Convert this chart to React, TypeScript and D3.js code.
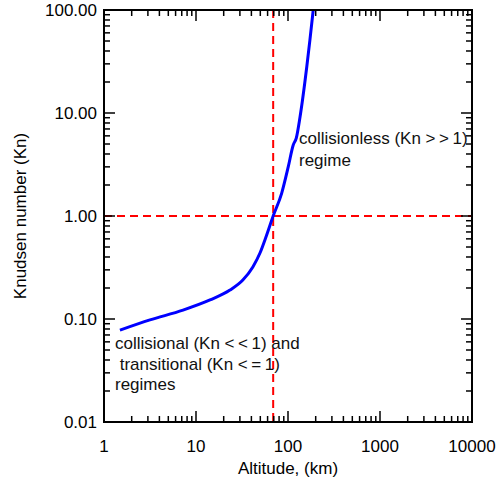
import React from "react";
import * as d3 from "d3";

const altitudeKm = [1.49, 3.16, 7.23, 14.2, 23.4, 32.3, 41.5, 49.6, 57.6, 69, 85.3, 100.7, 114, 123, 135, 160, 173, 188];
const knudsen = [0.078, 0.098, 0.122, 0.153, 0.191, 0.239, 0.32, 0.437, 0.625, 1.0, 1.66, 3.01, 4.89, 5.7, 9.1, 28.1, 51, 100];
const xTickValues = [1, 10, 100, 1000, 10000];
const xTickLabels = ["1", "10", "100", "1000", "10000"];
const yTickValues = [0.01, 0.1, 1, 10, 100];
const yTickLabels = ["0.01", "0.10", "1.00", "10.00", "100.00"];
const refAltitude = 69;
const refKn = 1;
// each label line split into [before, operator, after]
const upperLabel = [["collisionless (Kn ", ">>", "1)"], ["regime", "", ""]];
const lowerLabel = [["collisional (Kn ", "<<", "1) and"], [" transitional (Kn ", "<=", "1)"], ["regimes", "", ""]];

const W = 501, H = 481;
const L = 104, R = 472, T = 10, B = 422;
const FONT = "'Liberation Sans', Arial, Helvetica, sans-serif";

function minorTicks(domain: [number, number]) {
  const out: number[] = [];
  for (let e = Math.round(Math.log10(domain[0])); e < Math.round(Math.log10(domain[1])); e++) {
    for (let m = 2; m <= 9; m++) out.push(m * Math.pow(10, e));
  }
  return out;
}

function Label({ x, y, parts }: { x: number; y: number; parts: string[] }) {
  return (
    <text x={x} y={y} style={{ whiteSpace: "pre" }}>
      <tspan>{parts[0]}</tspan>
      {parts[1] ? <tspan letterSpacing={3.5}>{parts[1]}</tspan> : null}
      {parts[2] ? <tspan>{parts[2]}</tspan> : null}
    </text>
  );
}

export default function App() {
  const x = d3.scaleLog().domain([1, 10000]).range([L, R]);
  const y = d3.scaleLog().domain([0.01, 100]).range([B, T]);
  const pts = altitudeKm.map((a, i) => [a, knudsen[i]] as [number, number]);
  const line = d3.line<[number, number]>().x(d => x(d[0])).y(d => y(d[1])).curve(d3.curveMonotoneX);
  const xMinor = minorTicks([1, 10000]);
  const yMinor = minorTicks([0.01, 100]);
  const MAJ = 11, MIN = 6;
  return (
    <svg width={W} height={H} style={{ position: "absolute", left: 0, top: 0, background: "#fff" }} fontFamily={FONT}>
      <defs>
        <clipPath id="plot"><rect x={L} y={T} width={R - L} height={B - T} /></clipPath>
      </defs>
      <rect x={0} y={0} width={W} height={H} fill="#fff" />
      <g clipPath="url(#plot)">
        <line x1={x(refAltitude)} x2={x(refAltitude)} y1={T} y2={B} stroke="#ff0000" strokeWidth={2} strokeDasharray="8,5" />
        <line x1={L} x2={R} y1={y(refKn)} y2={y(refKn)} stroke="#ff0000" strokeWidth={2} strokeDasharray="8,5" />
        <path d={line(pts) || ""} fill="none" stroke="#0000ff" strokeWidth={3} />
      </g>
      <g stroke="#000" strokeWidth={1.5}>
        {xTickValues.map(v => (
          <g key={"xm" + v}>
            <line x1={x(v)} x2={x(v)} y1={B} y2={B - MAJ} />
            <line x1={x(v)} x2={x(v)} y1={T} y2={T + MAJ} />
          </g>
        ))}
        {xMinor.map(v => (
          <g key={"xn" + v}>
            <line x1={x(v)} x2={x(v)} y1={B} y2={B - MIN} />
            <line x1={x(v)} x2={x(v)} y1={T} y2={T + MIN} />
          </g>
        ))}
        {yTickValues.map(v => (
          <g key={"ym" + v}>
            <line x1={L} x2={L + MAJ} y1={y(v)} y2={y(v)} />
            <line x1={R} x2={R - MAJ} y1={y(v)} y2={y(v)} />
          </g>
        ))}
        {yMinor.map(v => (
          <g key={"yn" + v}>
            <line x1={L} x2={L + MIN} y1={y(v)} y2={y(v)} />
            <line x1={R} x2={R - MIN} y1={y(v)} y2={y(v)} />
          </g>
        ))}
      </g>
      <rect x={L} y={T} width={R - L} height={B - T} fill="none" stroke="#000" strokeWidth={2} />
      <g fontSize={17} fill="#000">
        {xTickValues.map((v, i) => (
          <text key={"xl" + v} x={x(v)} y={452} textAnchor="middle">{xTickLabels[i]}</text>
        ))}
        {yTickValues.map((v, i) => (
          <text key={"yl" + v} x={97} y={y(v) + 6} textAnchor="end">{yTickLabels[i]}</text>
        ))}
      </g>
      <text x={(L + R) / 2} y={474} fontSize={17} textAnchor="middle" fill="#000">Altitude, (km)</text>
      <text transform={`translate(26,${(T + B) / 2}) rotate(-90)`} fontSize={17} textAnchor="middle" fill="#000">Knudsen number (Kn)</text>
      <g fontSize={17} fill="#111">
        <Label x={299} y={144} parts={upperLabel[0]} />
        <Label x={299} y={166} parts={upperLabel[1]} />
        <Label x={115} y={349} parts={lowerLabel[0]} />
        <Label x={115} y={370} parts={lowerLabel[1]} />
        <Label x={115} y={390} parts={lowerLabel[2]} />
      </g>
    </svg>
  );
}
